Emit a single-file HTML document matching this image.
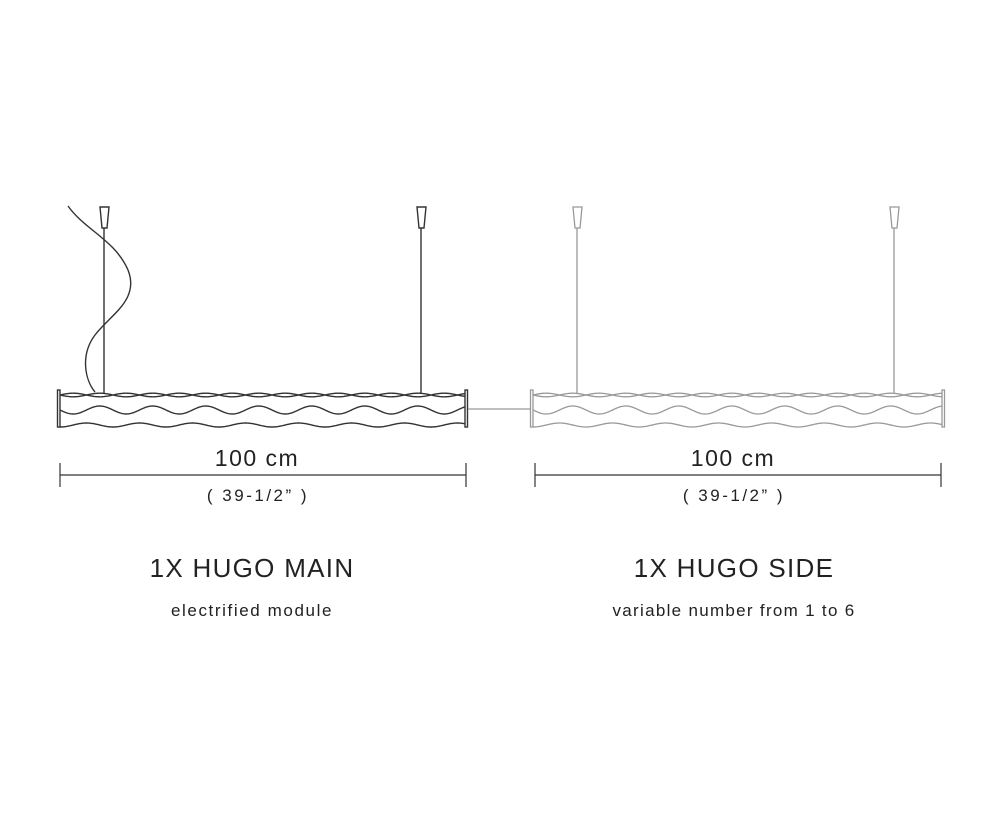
<!DOCTYPE html>
<html><head><meta charset="utf-8"><style>
body{margin:0;background:#fff;}
svg{display:block}
text{font-family:"Liberation Sans",sans-serif;fill:#222;text-anchor:middle}
</style></head><body>
<svg id="s" width="1000" height="819" viewBox="0 0 1000 819" xmlns="http://www.w3.org/2000/svg">
<g fill="none" stroke="#333" stroke-width="1.4">
<path d="M68,206 C85,230 115,240 128,270 C140,300 110,315 95,335 C80,355 85,380 95,392"/>
<line x1="104" y1="228" x2="104" y2="394"/>
<path d="M100,207 L109,207 L107,228 L102,228 Z"/>
<line x1="421" y1="228" x2="421" y2="394"/>
<path d="M417,207 L426,207 L424,228 L419,228 Z"/>
<rect x="57.5" y="390" width="2.5" height="37"/>
<rect x="465" y="390" width="2.5" height="37"/>
<g id="w1"></g>
</g>
<line x1="468" y1="409" x2="530" y2="409" stroke="#999" stroke-width="1.2"/>
<g fill="none" stroke="#999" stroke-width="1.3">
<line x1="577" y1="228" x2="577" y2="394"/>
<path d="M573,207 L582,207 L580,228 L575,228 Z"/>
<line x1="894" y1="228" x2="894" y2="394"/>
<path d="M890,207 L899,207 L897,228 L892,228 Z"/>
<rect x="530.5" y="390" width="2.5" height="37"/>
<rect x="942" y="390" width="2.5" height="37"/>
<g id="w2"></g>
</g>
<g stroke="#333" stroke-width="1.2">
<line x1="60" y1="475" x2="466" y2="475"/><line x1="60" y1="463" x2="60" y2="487"/><line x1="466" y1="463" x2="466" y2="487"/>
<line x1="535" y1="475" x2="941" y2="475"/><line x1="535" y1="463" x2="535" y2="487"/><line x1="941" y1="463" x2="941" y2="487"/>
</g>
<text x="257" y="466" font-size="23" letter-spacing="1.5">100 cm</text>
<text x="258" y="501" font-size="17" letter-spacing="2.5">( 39-1/2” )</text>
<text x="733" y="466" font-size="23" letter-spacing="1.5">100 cm</text>
<text x="734" y="501" font-size="17" letter-spacing="2.5">( 39-1/2” )</text>
<text x="252" y="577" font-size="26" letter-spacing="1.3">1X HUGO MAIN</text>
<text x="252" y="616" font-size="17" letter-spacing="1.6">electrified module</text>
<text x="734" y="577" font-size="26" letter-spacing="1.3">1X HUGO SIDE</text>
<text x="734" y="616" font-size="17" letter-spacing="1.3">variable number from 1 to 6</text>
</svg>
<script>
function wave(x0,x1,y,a,p,ph){var d="";for(var x=x0;x<=x1;x+=1){var yy=y+a*Math.sin((x-x0)/p*2*Math.PI+ph);d+=(x==x0?"M":"L")+x+","+yy.toFixed(2);}return d;}
function build(id,x0,x1){var g=document.getElementById(id),ns="http://www.w3.org/2000/svg";
[[395,1.8,0],[395,1.8,Math.PI],[410,4,0],[425,2,Math.PI/2]].forEach(function(w){var p=document.createElementNS(ns,"path");p.setAttribute("d",wave(x0,x1,w[0],w[1],53,w[2]));g.appendChild(p);});}
build("w1",60,465);build("w2",533,942);
</script>
</body></html>
